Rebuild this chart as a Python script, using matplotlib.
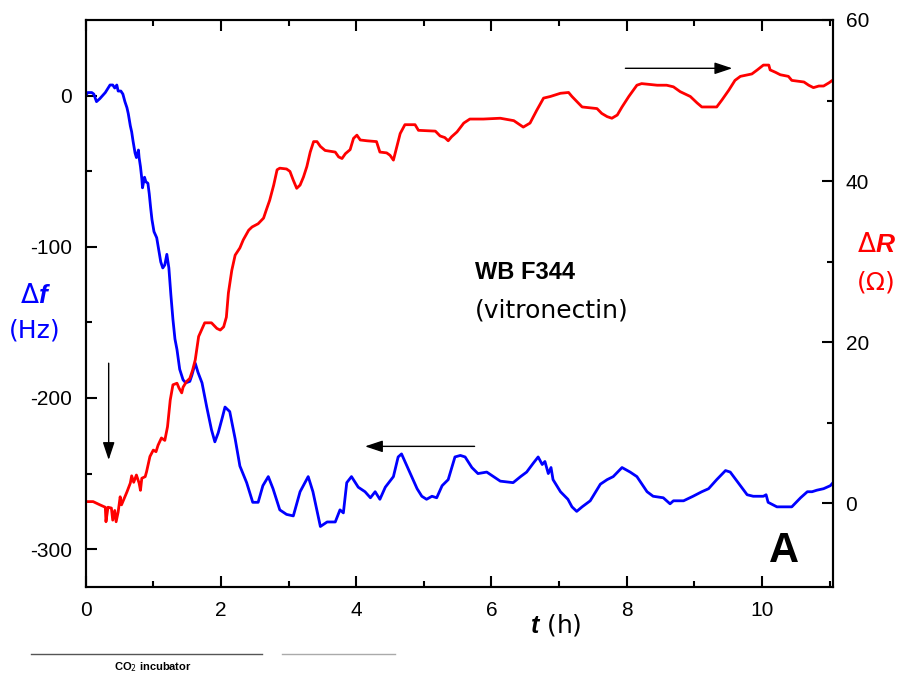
import matplotlib
matplotlib.use("Agg")
import matplotlib.pyplot as plt
from matplotlib.lines import Line2D

plt.rcParams["font.family"] = ["Liberation Sans", "DejaVu Sans"]
plt.rcParams["axes.unicode_minus"] = False
plt.rcParams["mathtext.fontset"] = "custom"
plt.rcParams["mathtext.rm"] = "DejaVu Sans"
plt.rcParams["mathtext.it"] = "Liberation Sans:italic:bold"

C_BLUE = "#0000ff"
C_RED = "#ff0000"

# delta f (Hz), left axis
t_f = [0.00, 0.03, 0.09, 0.12, 0.16, 0.21, 0.29, 0.36, 0.40, 0.43, 0.46, 0.48,
       0.52, 0.55, 0.58, 0.61, 0.63, 0.66, 0.68, 0.70, 0.73, 0.75, 0.78, 0.79,
       0.81, 0.83, 0.84, 0.87, 0.89, 0.92, 0.94, 0.96, 0.98, 1.01, 1.05, 1.08,
       1.11, 1.14, 1.17, 1.20, 1.23, 1.26, 1.29, 1.32, 1.35, 1.39, 1.44, 1.48,
       1.54, 1.57, 1.62, 1.66, 1.72, 1.79, 1.86, 1.91, 1.96, 2.02, 2.06, 2.13,
       2.21, 2.28, 2.38, 2.47, 2.55, 2.62, 2.70, 2.77, 2.87, 2.97, 3.07, 3.17,
       3.29, 3.36, 3.47, 3.57, 3.69, 3.76, 3.81, 3.86, 3.93, 4.03, 4.13, 4.21,
       4.28, 4.35, 4.43, 4.55, 4.62, 4.67, 4.72, 4.80, 4.90, 4.97, 5.04, 5.12,
       5.19, 5.27, 5.36, 5.46, 5.54, 5.61, 5.71, 5.80, 5.93, 6.03, 6.13, 6.32,
       6.43, 6.52, 6.62, 6.69, 6.75, 6.79, 6.84, 6.88, 6.91, 7.02, 7.13, 7.19,
       7.26, 7.34, 7.46, 7.61, 7.71, 7.80, 7.93, 8.05, 8.15, 8.30, 8.39, 8.54,
       8.64, 8.69, 8.84, 8.98, 9.11, 9.21, 9.33, 9.46, 9.53, 9.63, 9.78, 9.87,
       10.02, 10.06, 10.09, 10.22, 10.34, 10.44, 10.57, 10.67, 10.74, 10.81,
       10.91, 11.01, 11.05]
delta_f = [0, 2, 2, 1, -4, -2, 2, 7, 7, 5, 7, 3,
           3, 1, -4, -8, -12, -20, -24, -30, -38, -41, -36, -41,
           -47, -55, -61, -54, -57, -58, -65, -74, -82, -90, -94, -102,
           -110, -114, -112, -105, -114, -132, -148, -161, -168, -181, -188, -190,
           -189, -185, -177, -183, -190, -206, -221, -229, -223, -213, -206, -209,
           -227, -245, -256, -269, -269, -258, -252, -260, -274, -277, -278, -262,
           -252, -262, -285, -282, -282, -274, -276, -256, -252, -259, -262, -266,
           -262, -267, -259, -252, -239, -237, -242, -250, -260, -265, -267, -265,
           -266, -258, -254, -239, -238, -239, -246, -250, -249, -252, -255, -256,
           -252, -249, -243, -239, -244, -242, -250, -246, -254, -262, -267, -272,
           -275, -272, -268, -257, -254, -252, -246, -249, -252, -262, -265, -266,
           -270, -268, -268, -265, -262, -260, -254, -248, -249, -255, -264, -265,
           -265, -264, -269, -272, -272, -272, -266, -262, -262, -261,
           -260, -258, -256]

# delta R (Ohm), right axis
t_r = [0.01, 0.11, 0.21, 0.29, 0.30, 0.33, 0.38, 0.40, 0.43, 0.45, 0.48, 0.51,
       0.53, 0.58, 0.61, 0.66, 0.68, 0.71, 0.75, 0.79, 0.81, 0.83, 0.88, 0.90,
       0.95, 1.00, 1.04, 1.07, 1.12, 1.17, 1.21, 1.25, 1.29, 1.35, 1.38, 1.42,
       1.44, 1.49, 1.54, 1.58, 1.62, 1.67, 1.76, 1.86, 1.94, 1.99, 2.04, 2.08,
       2.11, 2.16, 2.21, 2.28, 2.33, 2.41, 2.46, 2.55, 2.63, 2.67, 2.72, 2.78,
       2.83, 2.87, 2.97, 3.02, 3.07, 3.12, 3.17, 3.22, 3.27, 3.32, 3.37, 3.42,
       3.47, 3.54, 3.69, 3.74, 3.79, 3.84, 3.91, 3.96, 4.01, 4.06, 4.16, 4.30,
       4.35, 4.45, 4.50, 4.55, 4.59, 4.65, 4.72, 4.87, 4.92, 5.17, 5.24, 5.31,
       5.36, 5.41, 5.49, 5.59, 5.68, 5.88, 6.13, 6.33, 6.40, 6.47, 6.57, 6.67,
       6.77, 6.87, 7.02, 7.14, 7.19, 7.26, 7.34, 7.56, 7.63, 7.71, 7.78, 7.86,
       7.93, 8.03, 8.15, 8.22, 8.45, 8.59, 8.69, 8.79, 8.94, 9.04, 9.11, 9.33,
       9.41, 9.51, 9.60, 9.68, 9.85, 9.93, 10.02, 10.10, 10.12, 10.20, 10.27,
       10.39, 10.44, 10.62, 10.69, 10.76, 10.84, 10.91, 10.99, 11.04]
delta_r = [0.2, 0.2, -0.2, -0.5, -2.3, -0.5, -0.6, -2.1, -0.9, -2.3, -1.1, 0.8,
           -0.2, 0.8, 1.4, 2.5, 3.4, 2.6, 3.5, 2.5, 1.6, 3.1, 3.3, 3.9,
           5.8, 6.6, 6.4, 7.2, 8.1, 7.8, 9.5, 12.8, 14.7, 14.9, 14.3, 13.7,
           14.4, 15.1, 15.5, 16.5, 17.8, 20.7, 22.4, 22.4, 21.7, 21.5, 21.9, 23.1,
           26.1, 28.9, 30.8, 31.7, 32.7, 33.9, 34.3, 34.7, 35.4, 36.4, 37.6, 39.5,
           41.4, 41.6, 41.5, 41.2, 40.1, 39.1, 39.5, 40.5, 41.8, 43.6, 44.9, 44.9,
           44.3, 43.8, 43.6, 43.0, 42.8, 43.4, 43.9, 45.3, 45.7, 45.1, 45.0, 44.9,
           43.6, 43.5, 43.2, 42.6, 43.9, 45.9, 47.0, 47.0, 46.3, 46.2, 45.6, 45.4,
           45.0, 45.5, 46.1, 47.2, 47.7, 47.7, 47.8, 47.5, 47.1, 46.7, 47.2, 48.8,
           50.3, 50.5, 50.9, 51.0, 50.5, 49.9, 49.2, 49.0, 48.4, 48.0, 47.8, 48.2,
           49.2, 50.5, 51.9, 52.1, 51.9, 51.9, 51.7, 51.1, 50.5, 49.7, 49.2, 49.2,
           50.1, 51.3, 52.5, 53.0, 53.3, 53.8, 54.4, 54.4, 53.8, 53.5, 53.2,
           53.0, 52.5, 52.3, 51.9, 51.6, 51.8, 51.8, 52.2, 52.5]

fig = plt.figure(figsize=(9, 6.75), dpi=100)
ax = fig.add_axes([0.0952, 0.1304, 0.8304, 0.840])
ax2 = ax.twinx()

ax.plot(t_f, delta_f, color=C_BLUE, lw=2.0)
ax2.plot(t_r, delta_r, color=C_RED, lw=2.0)

ax.set_xlim(0, 11.05)
ax.set_ylim(-325, 50)
ax2.set_ylim(-10.4, 60)

ax.set_xticks([0, 2, 4, 6, 8, 10])
ax.set_xticks([1, 3, 5, 7, 9, 11], minor=True)
ax.set_yticks([-300, -200, -100, 0])
ax.set_yticks([-250, -150, -50], minor=True)
ax2.set_yticks([0, 20, 40, 60])
ax2.set_yticks([10, 30, 50], minor=True)

for a in (ax, ax2):
    for s in a.spines.values():
        s.set_linewidth(1.5)
ax.tick_params(axis="x", which="both", direction="in", top=True, width=1.5,
               labelsize=15, pad=10)
ax.tick_params(axis="y", which="both", direction="in", width=1.5,
               labelsize=15, pad=10)
ax2.tick_params(axis="y", which="both", direction="in", width=1.5,
                labelsize=15, pad=9)
for a in (ax, ax2):
    a.tick_params(which="major", length=8)
    a.tick_params(which="minor", length=4)

arrow = dict(arrowstyle="-|>,head_length=0.9,head_width=0.3", color="black",
             lw=1, mutation_scale=12, shrinkA=0, shrinkB=0)
ax.annotate("", xy=(0.34, -241), xytext=(0.34, -177), arrowprops=arrow)
ax.annotate("", xy=(4.13, -232), xytext=(5.75, -232), arrowprops=arrow)
ax2.annotate("", xy=(9.56, 54.0), xytext=(7.98, 54.0), arrowprops=arrow)

ax.text(5.75, -117, "WB F344", fontsize=17, fontweight="bold", ha="left", va="center")
ax.text(5.75, -142, "(vitronectin)", fontsize=18, family="DejaVu Sans",
        ha="left", va="center")
ax.text(10.32, -301, "A", fontsize=30, fontweight="bold", ha="center", va="center")

fig.text(0.618, 0.074, r"$t$ (h)", fontsize=18, family="DejaVu Sans",
         ha="center", va="center")
fig.text(0.039, 0.561, r"$\Delta f$", fontsize=19, color=C_BLUE, ha="center", va="center")
fig.text(0.038, 0.510, "(Hz)", fontsize=18, family="DejaVu Sans", color=C_BLUE,
         ha="center", va="center")
fig.text(0.974, 0.637, r"$\Delta R$", fontsize=19, color=C_RED, ha="center", va="center")
fig.text(0.974, 0.582, "(Ω)", fontsize=18, family="DejaVu Sans", color=C_RED,
         ha="center", va="center")

fig.add_artist(Line2D([0.0344, 0.291], [0.031, 0.031], color="#555555", lw=1))
fig.add_artist(Line2D([0.313, 0.439], [0.031, 0.031], color="#aaaaaa", lw=1))
fig.text(0.170, 0.012, "CO$_2$ incubator", fontsize=8, fontweight="bold",
         ha="center", va="center")

fig.savefig("out.png", dpi=100)
